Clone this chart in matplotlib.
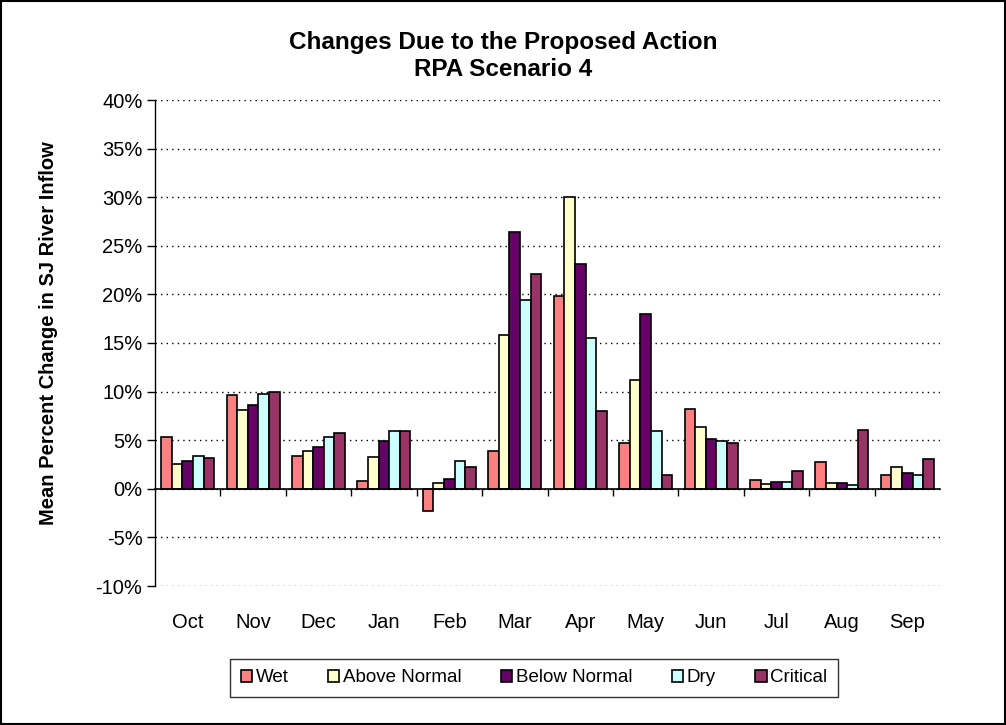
import numpy as np
import matplotlib
matplotlib.use("Agg")
from matplotlib import pyplot as plt
from matplotlib.patches import Rectangle

months = ["Oct", "Nov", "Dec", "Jan", "Feb", "Mar", "Apr", "May", "Jun", "Jul", "Aug", "Sep"]
series_names = ["Wet", "Above Normal", "Below Normal", "Dry", "Critical"]

wet = [5.3, 9.6, 3.4, 0.8, -2.3, 3.9, 19.8, 4.7, 8.2, 0.95, 2.8, 1.4]
above_normal = [2.6, 8.1, 3.9, 3.3, 0.55, 15.8, 30.0, 11.2, 6.35, 0.5, 0.55, 2.2]
below_normal = [2.85, 8.6, 4.3, 4.9, 1.0, 26.4, 23.1, 18.0, 5.15, 0.75, 0.55, 1.6]
dry = [3.4, 9.8, 5.3, 5.9, 2.85, 19.4, 15.5, 5.9, 4.9, 0.75, 0.4, 1.4]
critical = [3.2, 10.0, 5.7, 5.9, 2.2, 22.1, 8.0, 1.4, 4.7, 1.8, 6.1, 3.05]

colors = ["#FF8080", "#FFFFCC", "#660066", "#CCFFFF", "#993366"]

plt.rcParams["font.family"] = ["Liberation Sans", "DejaVu Sans"]

fig = plt.figure(figsize=(10.06, 7.25), dpi=100, facecolor="w")
ax = fig.add_axes([155 / 1006, 1 - 586 / 725, 785 / 1006, 486 / 725])

x = np.arange(len(months))
bw = 0.162
all_series = [wet, above_normal, below_normal, dry, critical]
for i, (name, vals) in enumerate(zip(series_names, all_series)):
    ax.bar(x + (i - 2) * bw, vals, bw, color=colors[i], edgecolor="black",
           linewidth=1.2, label=name, zorder=3)

ax.set_xlim(-0.5, len(months) - 0.5)
ax.set_ylim(-10, 40)
ax.set_yticks(np.arange(-10, 41, 5))
ax.set_yticklabels(["{}%".format(v) for v in range(-10, 41, 5)], fontsize=14.5)
ax.yaxis.grid(True, linestyle=(0, (1, 3)), color="black", linewidth=1)
ax.set_axisbelow(True)

for s in ["top", "right"]:
    ax.spines[s].set_visible(False)
ax.spines["left"].set_linewidth(1)
ax.spines["bottom"].set_position(("data", 0))
ax.spines["bottom"].set_linewidth(1.2)
ax.spines["bottom"].set_zorder(4)
ax.set_xticks(np.arange(0.5, len(months) - 0.5, 1))
ax.set_xticklabels([])
ax.tick_params(axis="x", direction="out", length=5, width=1)
ax.tick_params(axis="y", direction="out", length=6, width=1, pad=3)

trans = matplotlib.transforms.blended_transform_factory(ax.transData, ax.transAxes)
for i, m in enumerate(months):
    ax.text(i, -0.075, m, transform=trans, ha="center", va="center", fontsize=14.5)

ax.set_ylabel("Mean Percent Change in SJ River Inflow", fontsize=14.5,
              fontweight="bold")
ax.yaxis.set_label_coords(-0.124, 0.52)

fig.text(0.5, 1 - 43 / 725, "Changes Due to the Proposed Action", ha="center",
         va="center", fontsize=17.5, fontweight="bold")
fig.text(0.5, 1 - 70 / 725, "RPA Scenario 4", ha="center", va="center",
         fontsize=17.5, fontweight="bold")

leg = fig.legend(loc="center", bbox_to_anchor=(534 / 1006, 1 - 678 / 725), ncol=5,
                 fontsize=13.5, frameon=True, fancybox=False, edgecolor="black",
                 handlelength=0.6, handleheight=0.6, handletextpad=0.2,
                 columnspacing=2.1, borderpad=0.55)
leg.get_frame().set_linewidth(1)

fig.patches.append(Rectangle((0.001, 0.001), 0.998, 0.998, transform=fig.transFigure,
                             fill=False, edgecolor="black", linewidth=1.5))

fig.savefig("out.png", dpi=100)
